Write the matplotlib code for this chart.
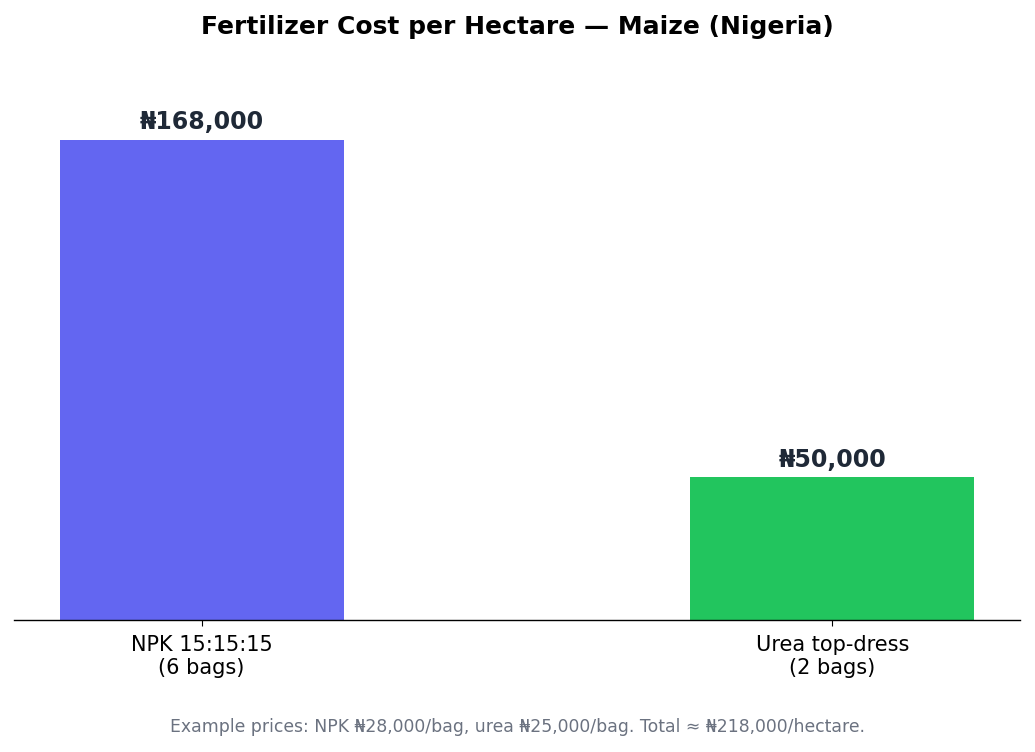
import matplotlib
matplotlib.use("Agg")
import matplotlib.pyplot as plt

categories = ["NPK 15:15:15\n(6 bags)", "Urea top-dress\n(2 bags)"]
costs = [168000, 50000]
colors = ["#6366F1", "#22C55E"]
value_labels = ["₦168,000", "₦50,000"]

fig = plt.figure(figsize=(10.35, 7.52), dpi=100)
ax = fig.add_axes([0.0135, 0.1755, 0.972, 0.734])
x = list(range(len(categories)))
bars = ax.bar(x, costs, width=0.45, color=colors)
ax.set_xlim(-0.2975, 1.2975)
ax.set_ylim(0, max(costs) * 1.15)
for b, lab in zip(bars, value_labels):
    ax.annotate(lab, (b.get_x() + b.get_width() / 2, b.get_height()),
                xytext=(0, 4), textcoords="offset points", ha="center", va="bottom",
                fontsize=17, fontweight="bold", color="#1f2937")
ax.set_xticks(x)
ax.set_xticklabels(categories, fontsize=15)
ax.set_yticks([])
for s in ["left", "top", "right"]:
    ax.spines[s].set_visible(False)
ax.spines["bottom"].set_linewidth(1.0)
ax.tick_params(axis="x", length=4, pad=6.5)
fig.suptitle("Fertilizer Cost per Hectare — Maize (Nigeria)", fontsize=18, fontweight="bold", y=0.98)
fig.text(0.5, 0.033, "Example prices: NPK ₦28,000/bag, urea ₦25,000/bag. Total ≈ ₦218,000/hectare.",
         ha="center", va="center", fontsize=12.4, color="#6b7280")
fig.savefig("out.png", dpi=100)
